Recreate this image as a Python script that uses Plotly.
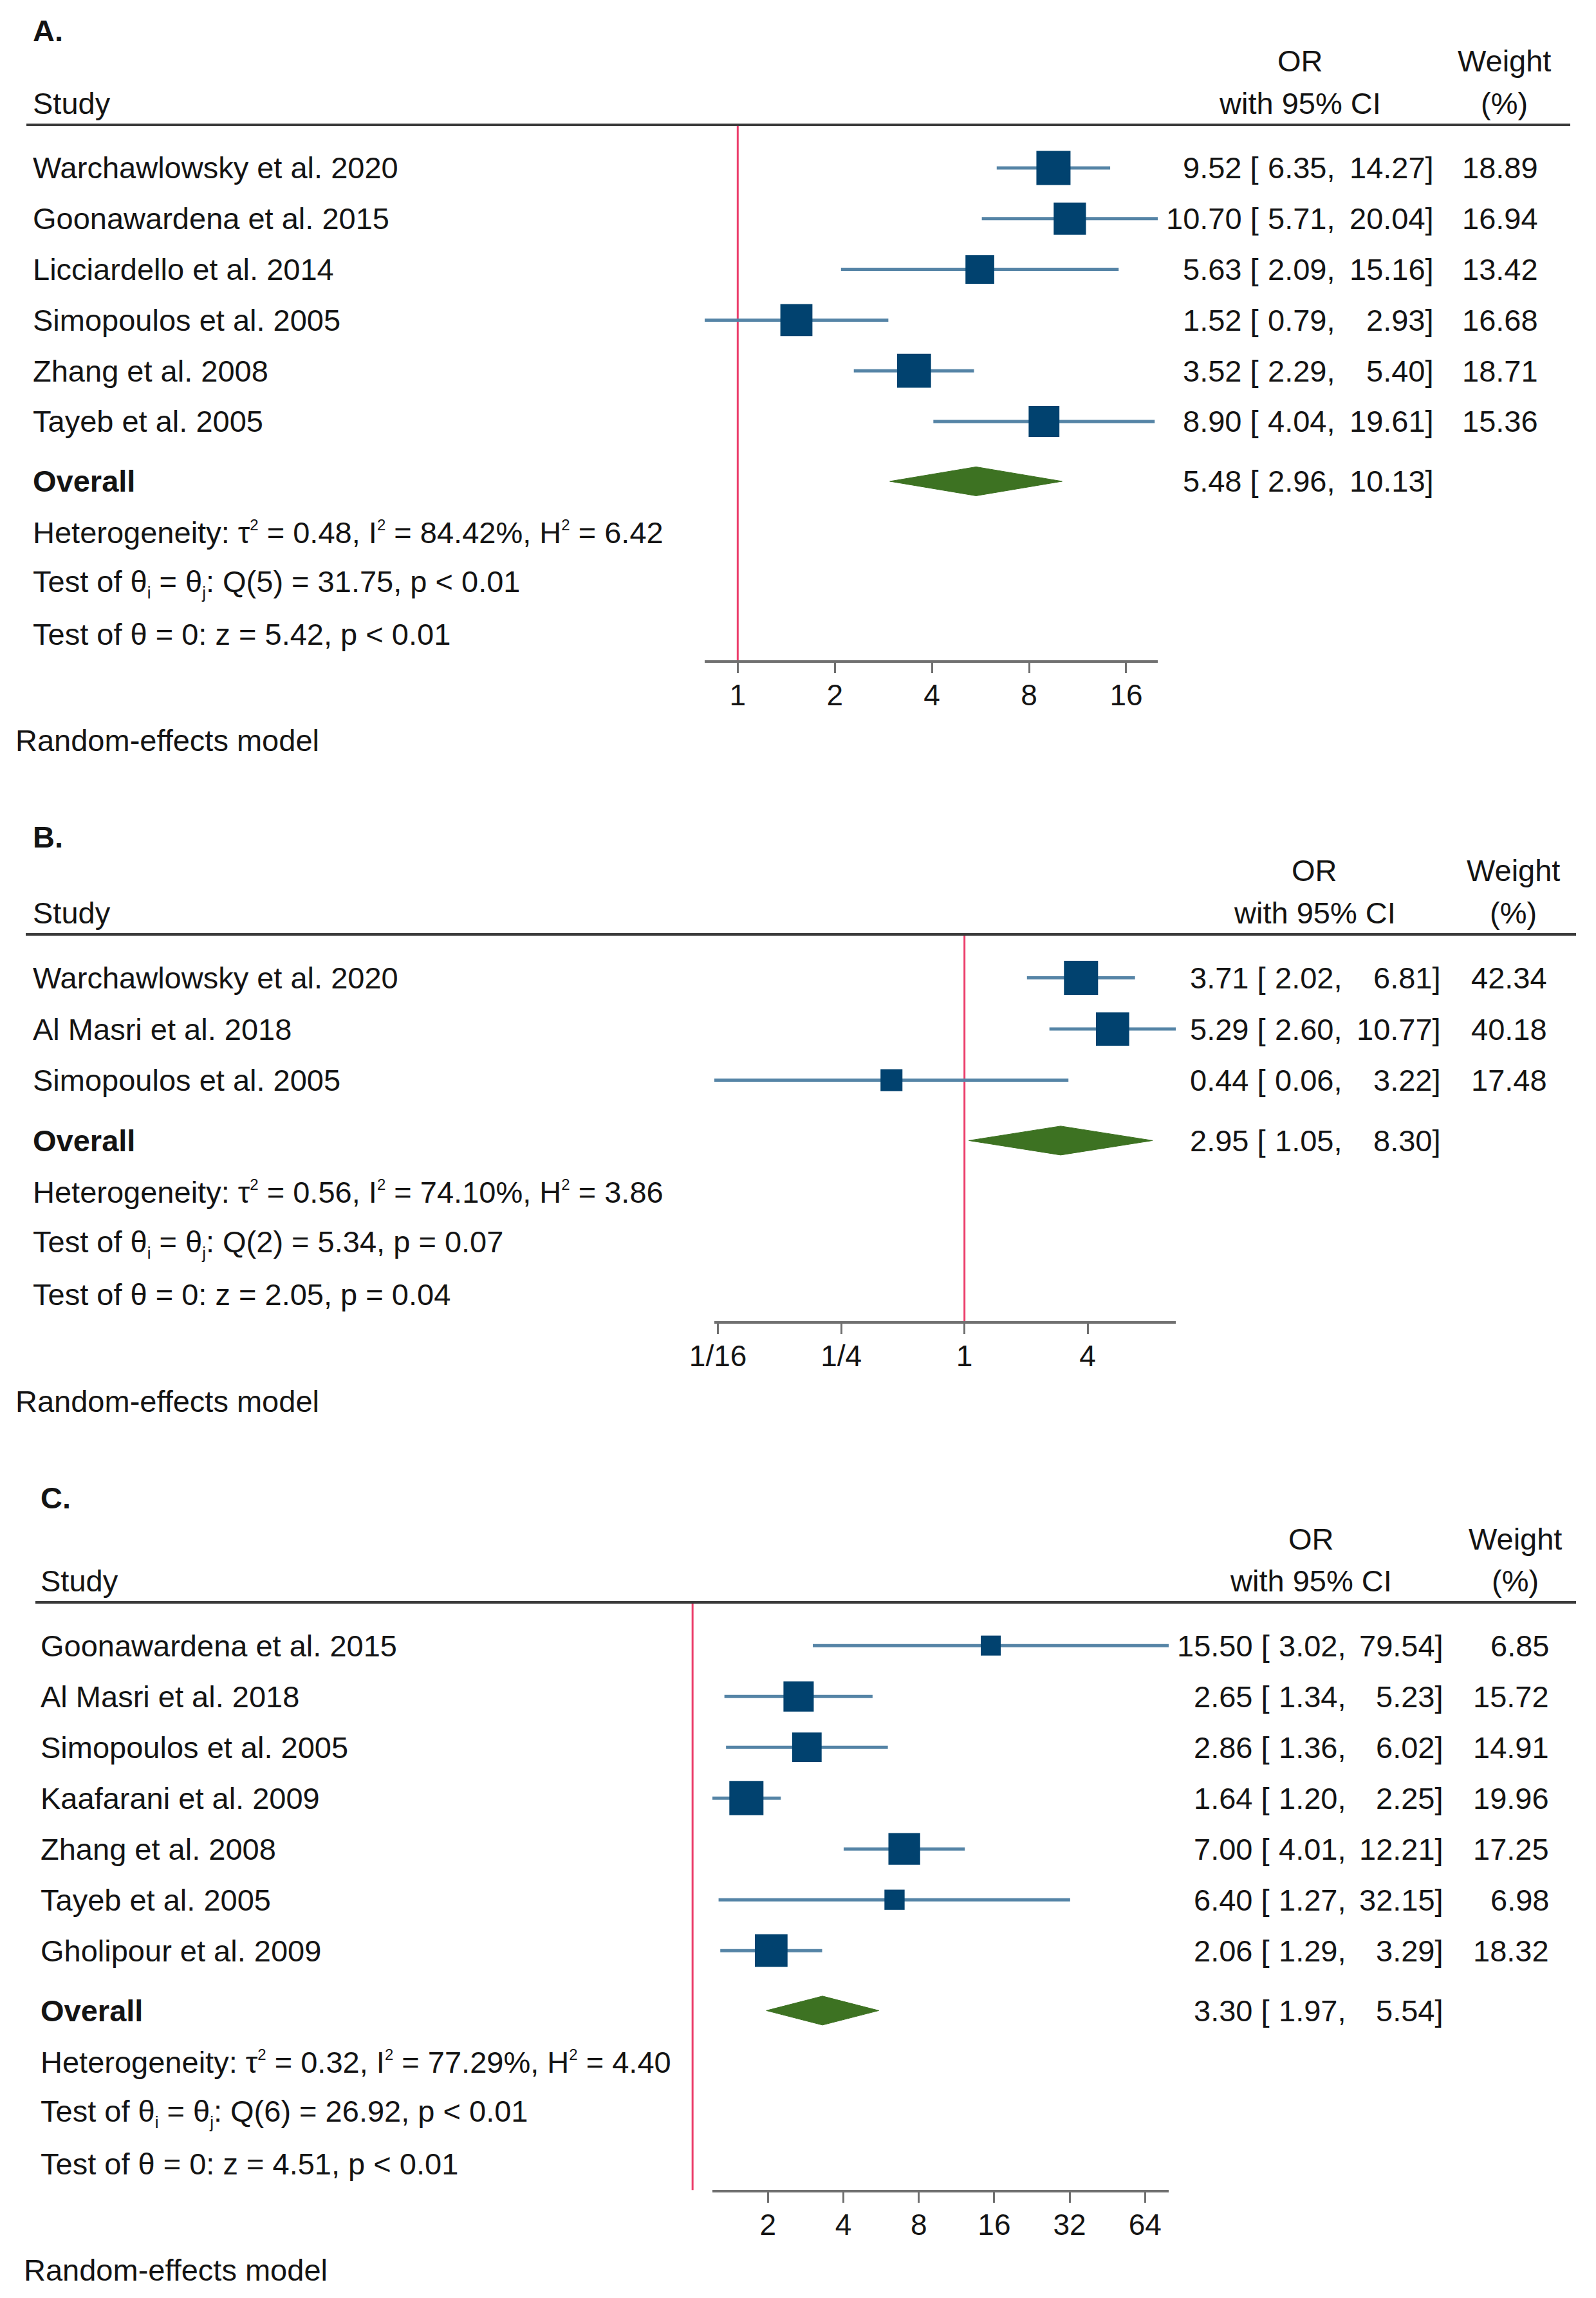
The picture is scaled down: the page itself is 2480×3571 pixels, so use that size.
import math
import plotly.graph_objects as go

W, H = 2480, 3571

# ---------------- data ----------------
SUP2 = "<sup><span style='font-size:24px'>2</span></sup>"
SUBI = "<sub><span style='font-size:26px'>i</span></sub>"
SUBJ = "<sub><span style='font-size:26px'>j</span></sub>"

# Panel A
a_studies = ["Warchawlowsky et al. 2020", "Goonawardena et al. 2015", "Licciardello et al. 2014",
             "Simopoulos et al. 2005", "Zhang et al. 2008", "Tayeb et al. 2005"]
a_or = [9.52, 10.70, 5.63, 1.52, 3.52, 8.90]
a_lo = [6.35, 5.71, 2.09, 0.79, 2.29, 4.04]
a_hi = [14.27, 20.04, 15.16, 2.93, 5.40, 19.61]
a_wt = [18.89, 16.94, 13.42, 16.68, 18.71, 15.36]
a_overall = [5.48, 2.96, 10.13]
a_stats = ["Heterogeneity: τ" + SUP2 + " = 0.48, I" + SUP2 + " = 84.42%, H" + SUP2 + " = 6.42",
           "Test of θ" + SUBI + " = θ" + SUBJ + ": Q(5) = 31.75, p &lt; 0.01",
           "Test of θ = 0: z = 5.42, p &lt; 0.01"]
a_ticks = [1, 2, 4, 8, 16]
a_ticklabels = ["1", "2", "4", "8", "16"]

# Panel B
b_studies = ["Warchawlowsky et al. 2020", "Al Masri et al. 2018", "Simopoulos et al. 2005"]
b_or = [3.71, 5.29, 0.44]
b_lo = [2.02, 2.60, 0.06]
b_hi = [6.81, 10.77, 3.22]
b_wt = [42.34, 40.18, 17.48]
b_overall = [2.95, 1.05, 8.30]
b_stats = ["Heterogeneity: τ" + SUP2 + " = 0.56, I" + SUP2 + " = 74.10%, H" + SUP2 + " = 3.86",
           "Test of θ" + SUBI + " = θ" + SUBJ + ": Q(2) = 5.34, p = 0.07",
           "Test of θ = 0: z = 2.05, p = 0.04"]
b_ticks = [1 / 16, 1 / 4, 1, 4]
b_ticklabels = ["1/16", "1/4", "1", "4"]

# Panel C
c_studies = ["Goonawardena et al. 2015", "Al Masri et al. 2018", "Simopoulos et al. 2005",
             "Kaafarani et al. 2009", "Zhang et al. 2008", "Tayeb et al. 2005", "Gholipour et al. 2009"]
c_or = [15.50, 2.65, 2.86, 1.64, 7.00, 6.40, 2.06]
c_lo = [3.02, 1.34, 1.36, 1.20, 4.01, 1.27, 1.29]
c_hi = [79.54, 5.23, 6.02, 2.25, 12.21, 32.15, 3.29]
c_wt = [6.85, 15.72, 14.91, 19.96, 17.25, 6.98, 18.32]
c_overall = [3.30, 1.97, 5.54]
c_stats = ["Heterogeneity: τ" + SUP2 + " = 0.32, I" + SUP2 + " = 77.29%, H" + SUP2 + " = 4.40",
           "Test of θ" + SUBI + " = θ" + SUBJ + ": Q(6) = 26.92, p &lt; 0.01",
           "Test of θ = 0: z = 4.51, p &lt; 0.01"]
c_ticks = [2, 4, 8, 16, 32, 64]
c_ticklabels = ["2", "4", "8", "16", "32", "64"]

panel_labels = ["A.", "B.", "C."]
model_label = "Random-effects model"
null_value = 1

# ---------------- styling / layout constants (pixels) ----------------
FONT = "Liberation Sans, Arial, sans-serif"
TXT = "#141414"
FS = 47
SQ_COL = "#01426f"
CI_COL = "#5584a6"
DIA_COL = "#3d7222"
RED = "#ec3f6c"
AX_COL = "#707070"
HEAD_COL = "#3a3a3a"

layouts = [
    dict(label_y=47, line_y=194, s=78.8, line_x0=41, line_x1=2440, ax_x0=1095, ax_x1=1799,
         left_x=50, model_x=23, or_x=2020, wt_x=2337, br_x=1957, lo_x=1969, hi_x=2229, wr_x=2391),
    dict(label_y=1300, line_y=1452, s=79.5, line_x0=40, line_x1=2449, ax_x0=1110, ax_x1=1827,
         left_x=50, model_x=23, or_x=2043, wt_x=2351, br_x=1968, lo_x=1980, hi_x=2240, wr_x=2405),
    dict(label_y=2327, line_y=2490, s=79.0, line_x0=55, line_x1=2449, ax_x0=1107, ax_x1=1816,
         left_x=62, model_x=36, or_x=2037, wt_x=2354, br_x=1974, lo_x=1986, hi_x=2244, wr_x=2408),
]

panels = [
    (a_studies, a_or, a_lo, a_hi, a_wt, a_overall, a_stats, a_ticks, a_ticklabels),
    (b_studies, b_or, b_lo, b_hi, b_wt, b_overall, b_stats, b_ticks, b_ticklabels),
    (c_studies, c_or, c_lo, c_hi, c_wt, c_overall, c_stats, c_ticks, c_ticklabels),
]


def px(x):
    return x / W


def py(y):
    return 1 - y / H


fig = go.Figure()
annotations = []
shapes = []
layout_axes = {}

HEAD_ROW = -0.85
MAX_SQ = 53

for k, (studies, ors, los, his, wts, ov, stats, ticks, ticklabels) in enumerate(panels):
    L = layouts[k]
    n = len(studies)
    sfx = "" if k == 0 else str(k + 1)
    xa, ya = "x" + sfx, "y" + sfx
    axis_row = n + 3.71
    axis_px = L["line_y"] + (axis_row - HEAD_ROW) * L["s"]
    rows = list(range(n))
    ov_row = n + 0.18
    xr = [math.log10(min(los)), math.log10(max(his))]

    # CI lines
    cx, cy = [], []
    for i in rows:
        cx += [los[i], his[i], None]
        cy += [i, i, None]
    fig.add_trace(go.Scatter(x=cx, y=cy, mode="lines", line=dict(color=CI_COL, width=5),
                             xaxis=xa, yaxis=ya, hoverinfo="skip", showlegend=False))
    # squares (area proportional to weight)
    wmax = max(wts)
    fig.add_trace(go.Scatter(x=ors, y=rows, mode="markers",
                             marker=dict(symbol="square", color=SQ_COL, opacity=1,
                                         size=[MAX_SQ * math.sqrt(w / wmax) for w in wts],
                                         line=dict(width=0)),
                             cliponaxis=False, xaxis=xa, yaxis=ya, showlegend=False))
    # overall diamond
    hh = 22.5 / L["s"]
    fig.add_trace(go.Scatter(x=[ov[1], ov[0], ov[2], ov[0], ov[1]],
                             y=[ov_row, ov_row - hh, ov_row, ov_row + hh, ov_row],
                             mode="lines", fill="toself", fillcolor=DIA_COL,
                             line=dict(color=DIA_COL, width=1),
                             xaxis=xa, yaxis=ya, showlegend=False))

    layout_axes["xaxis" + sfx] = dict(
        type="log", domain=[px(L["ax_x0"]), px(L["ax_x1"])], anchor=ya,
        range=xr,
        tickmode="array", tickvals=ticks, ticktext=ticklabels,
        ticks="outside", ticklen=16, tickwidth=3, tickcolor=AX_COL,
        showline=True, linecolor=AX_COL, linewidth=4, showgrid=False, zeroline=False,
        tickfont=dict(family=FONT, size=46, color=TXT), ticklabelstandoff=-5,
        automargin=False, fixedrange=True)
    layout_axes["yaxis" + sfx] = dict(
        domain=[py(axis_px), py(L["line_y"])], anchor=xa,
        range=[axis_row, HEAD_ROW], visible=False, showgrid=False, zeroline=False,
        automargin=False, fixedrange=True)

    # header line
    shapes.append(dict(type="line", xref="paper", yref="paper",
                       x0=px(L["line_x0"]), x1=px(L["line_x1"]),
                       y0=py(L["line_y"]), y1=py(L["line_y"]),
                       line=dict(color=HEAD_COL, width=4)))
    # no-effect line at OR = 1 (position on the log axis, as a fraction of its domain)
    f = (math.log10(null_value) - xr[0]) / (xr[1] - xr[0])
    shapes.append(dict(type="line", xref=xa + " domain", yref="paper", x0=f, x1=f,
                       y0=py(L["line_y"]), y1=py(axis_px),
                       line=dict(color=RED, width=3), layer="below"))

    def ann(text, x, y, xanchor="left", yref="paper", bold=False, size=FS):
        annotations.append(dict(
            text=("<b>%s</b>" % text) if bold else text,
            x=x, y=y, xref="paper", yref=yref, xanchor=xanchor, yanchor="middle",
            showarrow=False, borderpad=0,
            font=dict(family=FONT, size=size, color=TXT)))

    # panel label and headers
    ann(panel_labels[k], px(L["left_x"]), py(L["label_y"]), bold=True)
    ann("Study", px(L["left_x"]), py(L["line_y"] - 34))
    ann("OR", px(L["or_x"]), py(L["line_y"] - 99), xanchor="center")
    ann("with 95% CI", px(L["or_x"]), py(L["line_y"] - 34), xanchor="center")
    ann("Weight", px(L["wt_x"]), py(L["line_y"] - 99), xanchor="center")
    ann("(%)", px(L["wt_x"]), py(L["line_y"] - 34), xanchor="center")

    # study rows
    for i in rows:
        ann(studies[i], px(L["left_x"]), i, yref=ya)
        ann("%.2f [" % ors[i], px(L["br_x"]), i, xanchor="right", yref=ya)
        ann("%.2f," % los[i], px(L["lo_x"]), i, yref=ya)
        ann("%.2f]" % his[i], px(L["hi_x"]), i, xanchor="right", yref=ya)
        ann("%.2f" % wts[i], px(L["wr_x"]), i, xanchor="right", yref=ya)

    # overall row
    ann("Overall", px(L["left_x"]), ov_row, yref=ya, bold=True)
    ann("%.2f [" % ov[0], px(L["br_x"]), ov_row, xanchor="right", yref=ya)
    ann("%.2f," % ov[1], px(L["lo_x"]), ov_row, yref=ya)
    ann("%.2f]" % ov[2], px(L["hi_x"]), ov_row, xanchor="right", yref=ya)

    for j, st in enumerate(stats):
        ann(st, px(L["left_x"]), n + 1.19 + j, yref=ya)

    ann(model_label, px(L["model_x"]), py(axis_px + 124))

fig.update_layout(
    width=W, height=H, margin=dict(l=0, r=0, t=0, b=0, pad=0, autoexpand=False),
    paper_bgcolor="white", plot_bgcolor="rgba(0,0,0,0)",
    showlegend=False, annotations=annotations, shapes=shapes,
    font=dict(family=FONT, size=FS, color=TXT),
    **layout_axes)

fig.write_html("out.html", config={"displayModeBar": False, "staticPlot": True},
               post_script="document.body.style.margin='0';")
